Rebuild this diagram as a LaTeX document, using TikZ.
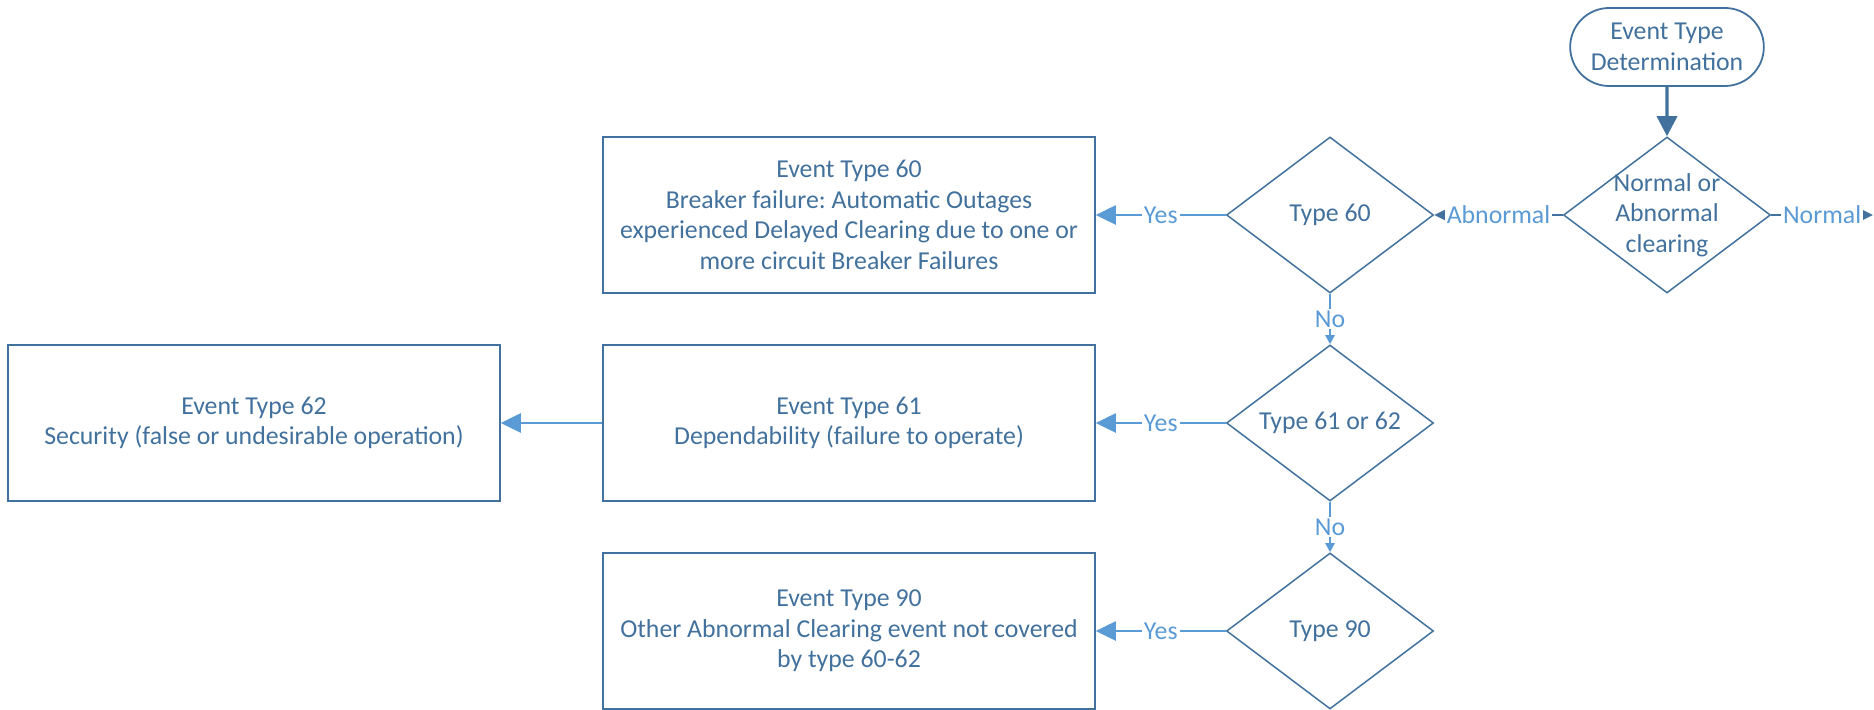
\documentclass[tikz,border=0pt]{standalone}
\usepackage{fontspec}
\setmainfont{Carlito}
\frenchspacing
\usetikzlibrary{arrows.meta,positioning,shapes.geometric,shapes.misc}
\definecolor{Ink}{HTML}{41719C}
\definecolor{Link}{HTML}{5B9BD5}

\begin{document}
\begin{tikzpicture}[x=0.5pt,y=-0.5pt,
  every node/.style={font=\fontsize{12.9}{15.3}\selectfont,text=Ink},
  box/.style={draw=Ink,line width=0.75pt,minimum width=246pt,minimum height=78pt,align=center,inner sep=0pt},
  dia/.style={draw=Ink,line width=0.75pt,diamond,aspect=1.33,minimum width=103.5pt,minimum height=78pt,inner sep=0pt,align=center},
  term/.style={draw=Ink,line width=0.9pt,rounded rectangle,minimum width=103.5pt,minimum height=39pt,align=center},
  yes/.style={draw=Link,line width=1.3pt,-{Triangle[length=10pt,width=9.5pt]}},
  no/.style={draw=Link,line width=1.3pt,-{Triangle[length=4.5pt,width=4.5pt]}},
  side/.style={draw=Ink,line width=1.3pt,-{Triangle[length=6.5pt,width=6pt]}},
  tag/.style={fill=white,text=Link,inner sep=1pt}]
  \useasboundingbox (0,0) rectangle (1874,710);
  \node[term] (start) at (1667,47) {Event Type\\Determination};
  \node[dia,inner sep=-3pt] (clear) at (1667,215) {Normal or\\Abnormal\\clearing};
  \coordinate (normal) at (1873,215);
  \node[dia] (d60) at (1330,215) {Type 60};
  \node[dia] (d61) at (1330,423) {Type 61 or 62};
  \node[dia] (d90) at (1330,631) {Type 90};
  \node[box] (b60) at (849,215) {Event Type 60\\Breaker failure: Automatic Outages\\experienced Delayed Clearing due to one or\\more circuit Breaker Failures};
  \node[box] (b61) at (849,423) {Event Type 61\\Dependability (failure to operate)};
  \node[box] (b62) at (254,423) {Event Type 62\\Security (false or undesirable operation)};
  \node[box] (b90) at (849,631) {Event Type 90\\Other Abnormal Clearing event not covered\\by type 60-62};
  \draw[draw=Ink,line width=1.7pt,-{Triangle[length=10pt,width=10pt]}] (start) -- (clear);
  \draw[side] (clear) -- node[tag] {Abnormal} (d60);
  \draw[side] (clear) -- node[tag] {Normal} (normal);
  \foreach \d/\b in {d60/b60,d61/b61,d90/b90} {
    \draw[yes] (\d) -- node[tag] {Yes} (\b);
  }
  \draw[no] (d60) -- node[tag] {No} (d61);
  \draw[no] (d61) -- node[tag] {No} (d90);
  \draw[yes] (b61) -- (b62);
\end{tikzpicture}
\end{document}
